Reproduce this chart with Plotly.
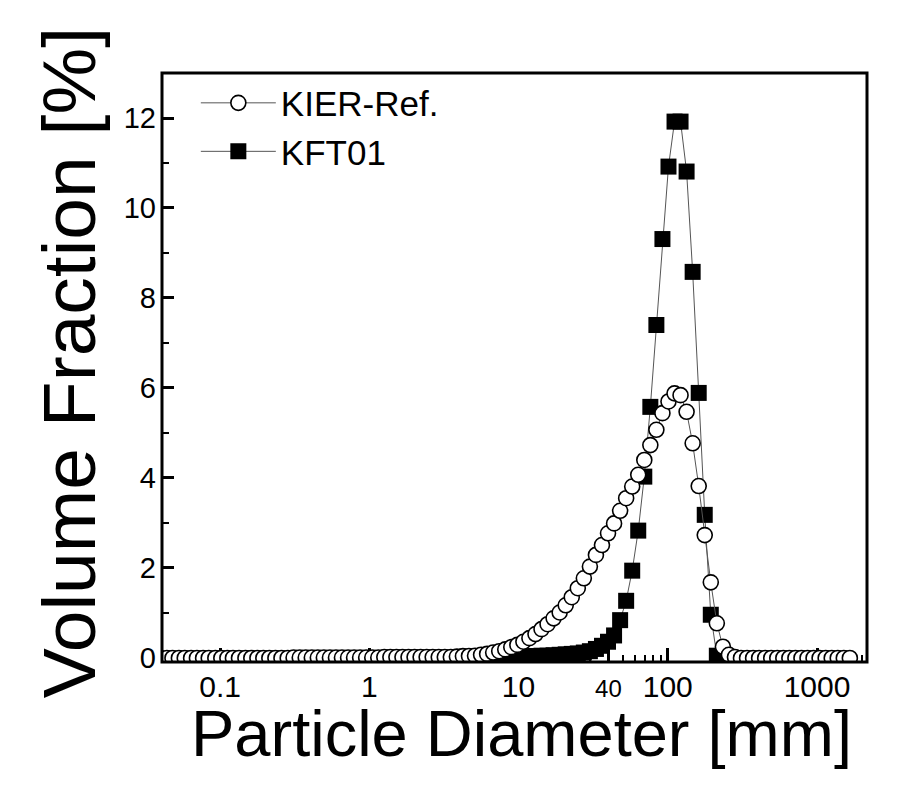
import plotly.graph_objects as go

# particle size channels [um] (log spaced analyser bins)
x_um = [0.04, 0.044, 0.048, 0.053, 0.058, 0.064, 0.070, 0.077, 0.084, 0.093,
        0.102, 0.112, 0.122, 0.134, 0.148, 0.162, 0.178, 0.195, 0.214, 0.235,
        0.258, 0.284, 0.311, 0.342, 0.375, 0.412, 0.452, 0.496, 0.545, 0.598,
        0.656, 0.721, 0.791, 0.868, 0.953, 1.047, 1.149, 1.261, 1.385, 1.520,
        1.669, 1.832, 2.011, 2.208, 2.423, 2.660, 2.920, 3.206, 3.519, 3.863,
        4.241, 4.656, 5.111, 5.611, 6.159, 6.761, 7.422, 8.148, 8.944, 9.819,
        10.78, 11.83, 12.99, 14.26, 15.65, 17.18, 18.86, 20.71, 22.73, 24.95,
        27.39, 30.07, 33.01, 36.24, 39.78, 43.67, 47.94, 52.62, 57.77, 63.41,
        69.61, 76.42, 83.89, 92.09, 101.1, 111.0, 121.8, 133.7, 146.8, 161.2,
        176.9, 194.2, 213.2, 234.1, 256.9, 282.1, 309.6, 339.9, 373.1, 409.6,
        449.7, 493.6, 541.9, 594.9, 653.0, 716.9, 786.9, 863.9, 948.3, 1041,
        1143, 1255, 1377, 1512, 1660]

# volume fraction [%], KIER reference powder (all 115 channels)
kier_ref = [0.0, 0.0, 0.0, 0.0, 0.0, 0.0, 0.0, 0.0, 0.0, 0.0,
            0.0, 0.0, 0.0, 0.0, 0.0, 0.0, 0.0, 0.0, 0.0, 0.0,
            0.0, 0.0, 0.01, 0.01, 0.01, 0.01, 0.01, 0.01, 0.01, 0.01,
            0.01, 0.01, 0.01, 0.01, 0.01, 0.01, 0.01, 0.02, 0.02, 0.02,
            0.02, 0.02, 0.02, 0.02, 0.02, 0.02, 0.02, 0.02, 0.02, 0.03,
            0.04, 0.045, 0.05, 0.07, 0.09, 0.12, 0.15, 0.19, 0.24, 0.29,
            0.36, 0.44, 0.53, 0.64, 0.75, 0.88, 1.01, 1.17, 1.35, 1.55,
            1.77, 2.03, 2.29, 2.51, 2.77, 2.99, 3.27, 3.55, 3.81, 4.07,
            4.40, 4.73, 5.07, 5.44, 5.70, 5.88, 5.84, 5.47, 4.77, 3.82,
            2.73, 1.68, 0.77, 0.25, 0.07, 0.02, 0.0, 0.0, 0.0, 0.0,
            0.0, 0.0, 0.0, 0.0, 0.0, 0.0, 0.0, 0.0, 0.0, 0.0,
            0.0, 0.0, 0.0, 0.0, 0.0]

# KFT01 only reported from 6.159 um to 213.2 um
x_kft = x_um[54:93]
kft01 = [0.0, 0.01, 0.01, 0.02, 0.02, 0.03, 0.03, 0.04, 0.04, 0.05,
         0.05, 0.06, 0.07, 0.08, 0.09, 0.10, 0.12, 0.15, 0.20, 0.27,
         0.36, 0.50, 0.84, 1.27, 1.94, 2.83, 4.03, 5.58, 7.40, 9.31,
         10.92, 11.92, 11.92, 10.81, 8.58, 5.89, 3.18, 0.96, 0.05]

x_ticks = [0.1, 1, 10, 40, 100, 1000]
x_ticktext = ["0.1", "1", "10", "<span style='font-size:24px'>40</span>", "100", "1000"]
y_ticks = [0, 2, 4, 6, 8, 10, 12]

minor_x = [m * 10 ** e for e in range(-2, 4) for m in range(2, 10)]

tick_font = dict(family="Liberation Sans, Arial", size=30, color="black")
title_family = "Liberation Sans, Arial"

fig = go.Figure()

fig.add_trace(go.Scatter(
    x=x_kft, y=kft01, name="KFT01", mode="lines+markers", legendrank=2,
    line=dict(color="#555555", width=1),
    marker=dict(symbol="square", size=16, color="black", line=dict(width=0)),
))
fig.add_trace(go.Scatter(
    x=x_um, y=kier_ref, name="KIER-Ref.", mode="lines+markers", legendrank=1,
    line=dict(color="#555555", width=1),
    marker=dict(symbol="circle", size=15, color="white", line=dict(color="black", width=1.6)),
))

fig.update_xaxes(
    type="log", range=[-1.389, 3.335], automargin=False,
    tickvals=x_ticks, ticktext=x_ticktext, ticks="inside", ticklen=14, tickwidth=2.5,
    tickcolor="black", tickfont=tick_font, ticklabelstandoff=4,
    minor=dict(tickvals=minor_x, ticks="inside", ticklen=7, tickwidth=2, tickcolor="black"),
    showgrid=False, zeroline=False, showline=False, layer="below traces",
)
fig.update_yaxes(
    range=[-0.09, 13.0], automargin=False,
    tickvals=y_ticks, ticks="inside", ticklen=12, tickwidth=2.5,
    tickcolor="black", tickfont=dict(tick_font, size=29), ticklabelstandoff=5,
    minor=dict(dtick=1, ticks="inside", ticklen=7, tickwidth=2, tickcolor="black"),
    showgrid=False, zeroline=False, showline=False, layer="below traces",
)

# thick frame drawn over the markers
fig.add_shape(type="rect", xref="paper", yref="paper", x0=0, y0=0, x1=1, y1=1,
              line=dict(color="black", width=3), layer="above")

fig.add_annotation(text="Particle Diameter [mm]", xref="paper", yref="paper",
                   x=0.51, y=-0.121, xanchor="center", yanchor="middle", showarrow=False,
                   font=dict(family=title_family, size=65, color="black"))
fig.add_annotation(text="Volume Fraction [%]", xref="paper", yref="paper", textangle=-90,
                   x=-0.132, y=0.509, xanchor="center", yanchor="middle", showarrow=False,
                   font=dict(family=title_family, size=75, color="black"))

fig.update_layout(
    width=922, height=794,
    margin=dict(l=162, r=55, t=73, b=132),
    paper_bgcolor="white", plot_bgcolor="white",
    showlegend=True,
    legend=dict(x=0.048, y=0.999, xanchor="left", yanchor="top", itemwidth=75,
                bgcolor="rgba(0,0,0,0)", tracegroupgap=0,
                font=dict(family=title_family, size=35, color="black")),
)

fig.write_html("out.html", config={"displayModeBar": False},
               post_script="document.body.style.margin='0px';")
